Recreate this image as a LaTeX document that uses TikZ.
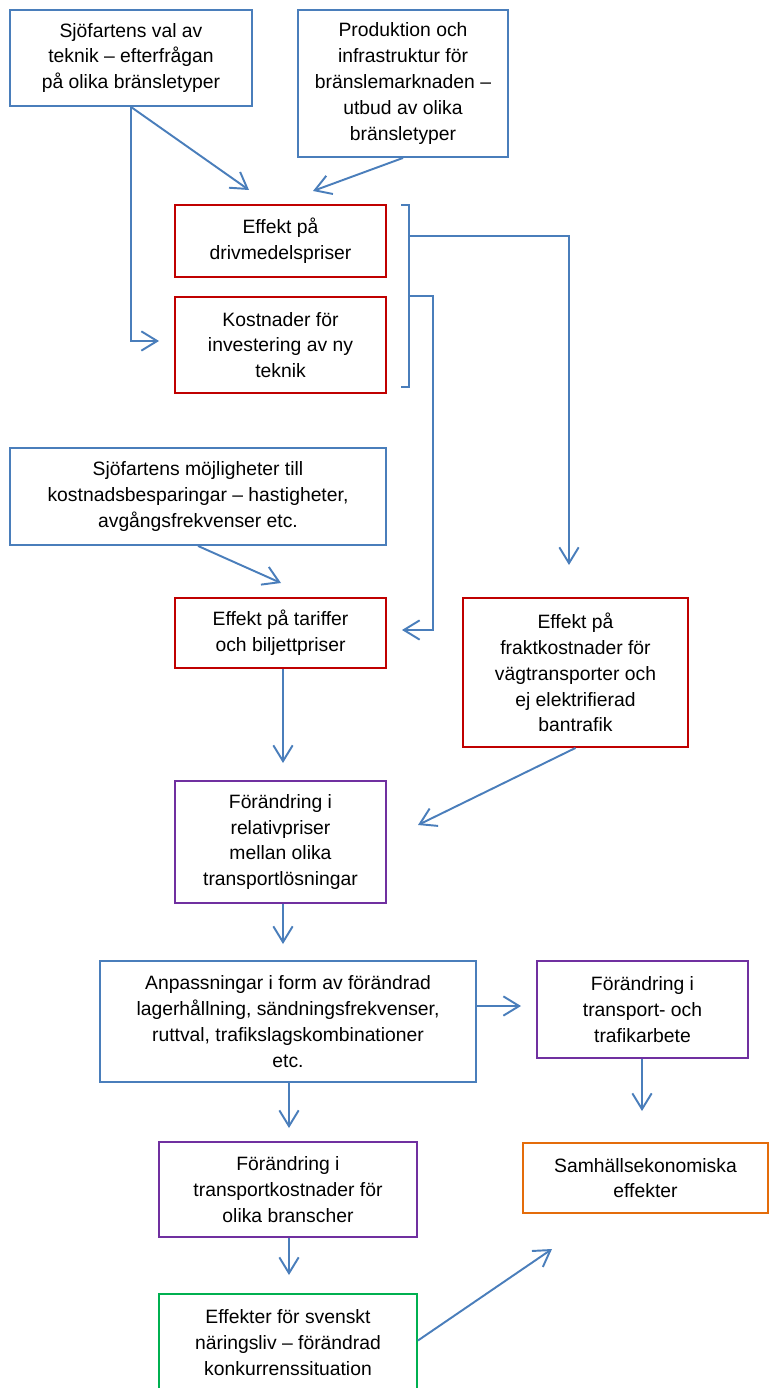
\documentclass[tikz,border=0pt]{standalone}
\usepackage{fontspec}
\setmainfont{Liberation Sans}
\usetikzlibrary{arrows.meta, positioning, calc}
\definecolor{linje}{HTML}{4A7EBB}
\definecolor{rod}{HTML}{C00000}
\definecolor{lila}{HTML}{7030A0}
\definecolor{gron}{HTML}{00B050}
\definecolor{orangeram}{HTML}{E46C0A}

\tikzset{
  ruta/.style={draw, line width=1.1pt, fill=white, align=center, inner sep=0pt,
    font=\fontsize{11}{14.7}\selectfont},
  pil/.style={linje, line width=1.1pt, -{Straight Barb[length=9pt, width=11pt]}},
}

\begin{document}
\begin{tikzpicture}[x=0.02cm, y=-0.02cm]
  \useasboundingbox (0,0) rectangle (769,1388);
  \clip (0,0) rectangle (769,1388);

  % Efterfrågan och utbud
  \node[ruta, draw=linje, minimum width=4.84cm, minimum height=1.92cm] (val) at (131,58)
    {Sjöfartens val av\\teknik -- efterfrågan\\på olika bränsletyper};
  \node[ruta, draw=linje, minimum width=4.20cm, minimum height=2.94cm] (utbud) at (403,83.5)
    {Produktion och\\infrastruktur för\\bränslemarknaden --\\utbud av olika\\bränsletyper};

  % Kostnader
  \node[ruta, draw=rod, minimum width=4.22cm, minimum height=1.44cm] (driv) at (280.5,241)
    {Effekt på\\drivmedelspriser};
  \node[ruta, draw=rod, minimum width=4.22cm, minimum height=1.92cm] (invest) at (280.5,345)
    {Kostnader för\\investering av ny\\teknik};
  \node[ruta, draw=linje, minimum width=7.52cm, minimum height=1.94cm] (besparing) at (198,496.5)
    {Sjöfartens möjligheter till\\kostnadsbesparingar -- hastigheter,\\avgångsfrekvenser etc.};
  \node[ruta, draw=rod, minimum width=4.22cm, minimum height=1.40cm] (tariff) at (280.5,633)
    {Effekt på tariffer\\och biljettpriser};
  \node[ruta, draw=rod, minimum width=4.50cm, minimum height=2.98cm] (frakt) at (575.5,672.5)
    {Effekt på\\fraktkostnader för\\vägtransporter och\\ej elektrifierad\\bantrafik};

  % Anpassningar
  \node[ruta, draw=lila, minimum width=4.22cm, minimum height=2.44cm] (relpris) at (280.5,842)
    {Förändring i\\relativpriser\\mellan olika\\transportlösningar};
  \node[ruta, draw=linje, minimum width=7.52cm, minimum height=2.42cm] (anpass) at (288,1021.5)
    {Anpassningar i form av förändrad\\lagerhållning, sändningsfrekvenser,\\ruttval, trafikslagskombinationer\\etc.};
  \node[ruta, draw=lila, minimum width=4.22cm, minimum height=1.94cm] (arbete) at (642.5,1009.5)
    {Förändring i\\transport- och\\trafikarbete};
  \node[ruta, draw=lila, minimum width=5.16cm, minimum height=1.90cm] (branscher) at (288,1189.5)
    {Förändring i\\transportkostnader för\\olika branscher};

  % Effekter
  \node[ruta, draw=orangeram, minimum width=4.90cm, minimum height=1.40cm] (samhall) at (645.5,1178)
    {Samhällsekonomiska\\effekter};
  \node[ruta, draw=gron, minimum width=5.16cm, minimum height=1.94cm] (naring) at (288,1342.5)
    {Effekter för svenskt\\näringsliv -- förändrad\\konkurrenssituation};

  % Klammer
  \draw[linje, line width=1.1pt] (401,205) -- (409,205) -- (409,387) -- (401,387);
  \coordinate (kl1) at (409,236);
  \coordinate (kl2) at (409,296);

  % Pilspetsar
  \coordinate (tDriv) at (249,190);
  \coordinate (tInvest) at (159,341);
  \coordinate (tUtbud) at (313,191);
  \coordinate (tFrakt) at (569,565);
  \coordinate (tTariff) at (402,630);
  \coordinate (tBesp) at (281,583);
  \coordinate (tRel1) at (283,763);
  \coordinate (tRel2) at (418,825);
  \coordinate (tAnp) at (283,944);
  \coordinate (tArb) at (521,1006);
  \coordinate (tBr) at (289,1128);
  \coordinate (tSam1) at (642,1111);
  \coordinate (tNar) at (289,1275);
  \coordinate (tSam2) at (552,1249);

  % Pilar
  \draw[pil] (val.south) -- (tDriv);
  \draw[pil] (val.south) |- (tInvest);
  \draw[pil] (utbud.south) -- (tUtbud);
  \draw[pil] (kl1) -| (tFrakt);
  \draw[pil] (kl2) -- ++(24,0) |- (tTariff);
  \draw[pil] (besparing.south) -- (tBesp);
  \draw[pil] (tRel1 |- tariff.south) -- (tRel1);
  \draw[pil] (frakt.south) -- (tRel2);
  \draw[pil] (tAnp |- relpris.south) -- (tAnp);
  \draw[pil] (anpass.east |- tArb) -- (tArb);
  \draw[pil] (tBr |- anpass.south) -- (tBr);
  \draw[pil] (tSam1 |- arbete.south) -- (tSam1);
  \draw[pil] (tNar |- branscher.south) -- (tNar);
  \draw[pil] (naring.east) ++(0,-2) -- (tSam2);
\end{tikzpicture}
\end{document}
